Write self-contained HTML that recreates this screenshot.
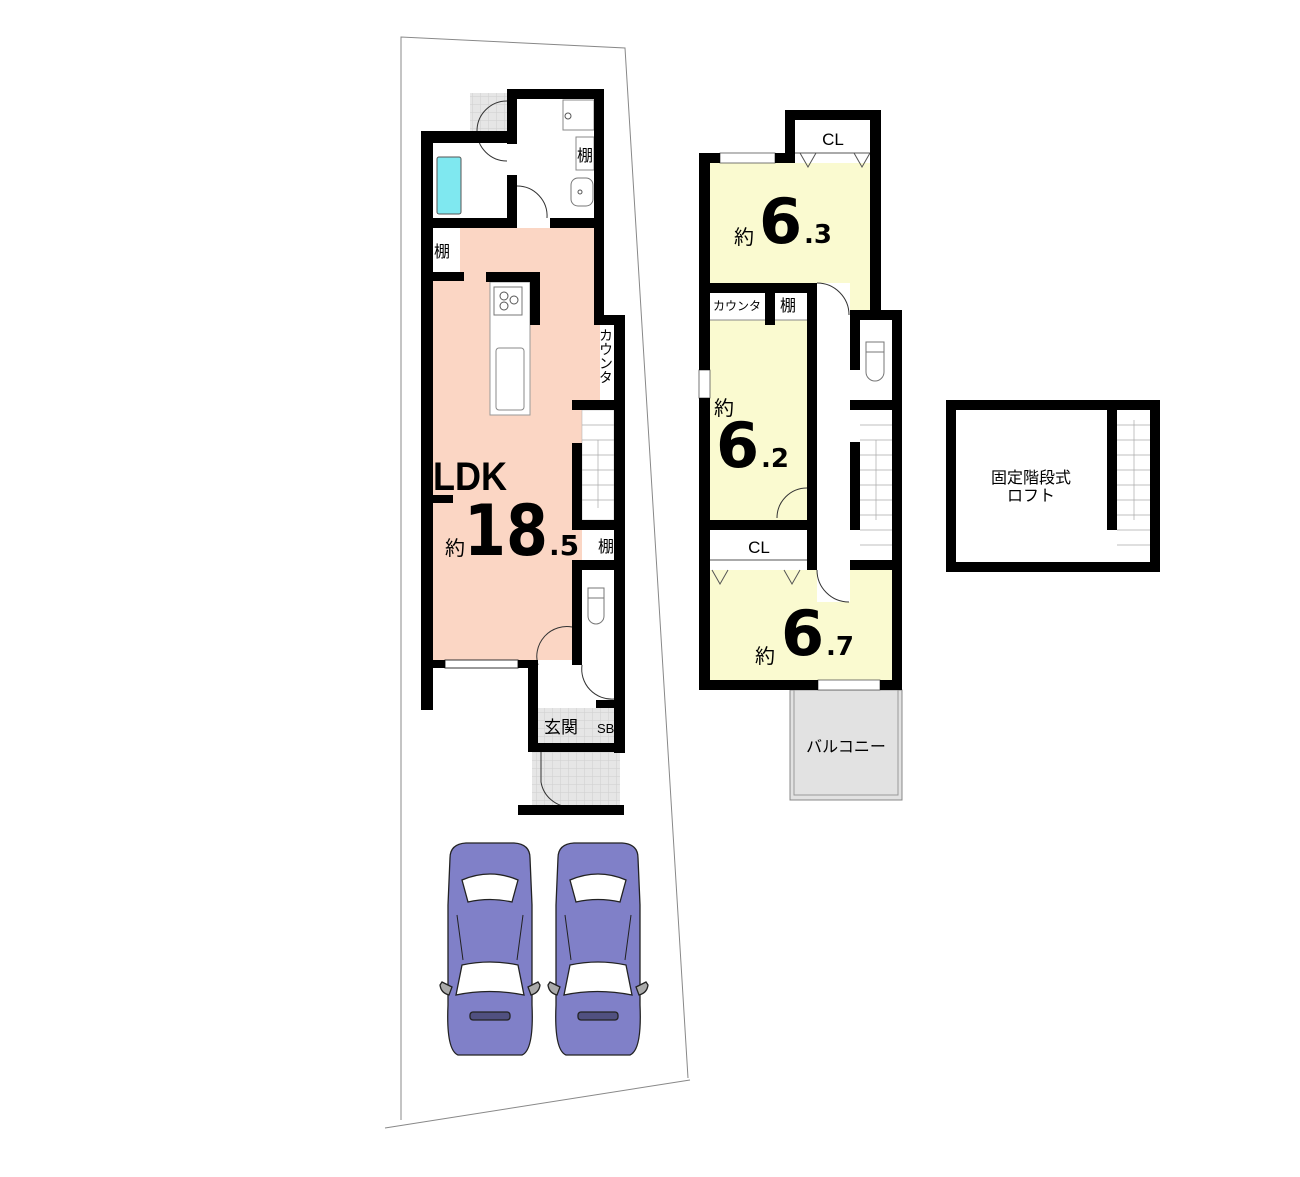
<!DOCTYPE html>
<html><head><meta charset="utf-8"><style>
body{margin:0;background:#fff}
svg{display:block}
text{font-family:"Liberation Sans","Noto Sans CJK JP",sans-serif;fill:#000}
.big{font-family:"DejaVu Sans","Liberation Sans",sans-serif;font-weight:bold}
</style></head><body>
<svg width="1300" height="1177" viewBox="0 0 1300 1177" xmlns="http://www.w3.org/2000/svg">
<defs>
<pattern id="hatch" width="8" height="8" patternUnits="userSpaceOnUse"><rect width="8" height="8" fill="#e6e6e6"/><path d="M0 0H8M0 0V8" stroke="#cfcfcf" stroke-width="1"/></pattern>
</defs>
<polyline points="401,1120 401,37 625,48 688,1078" fill="none" stroke="#888" stroke-width="1"/>
<line x1="690" y1="1080" x2="385" y2="1128" stroke="#888" stroke-width="1"/>

<!-- ===== 1F ===== -->
<rect x="433" y="228" width="161" height="432" fill="#fbd6c4"/>
<rect x="594" y="325" width="20" height="80" fill="#fbd6c4"/>
<rect x="433" y="228" width="27" height="44" fill="#fff"/>
<rect x="490" y="282" width="40" height="133" fill="#fff" stroke="#999"/>
<rect x="494" y="287" width="28" height="28" fill="#fff" stroke="#777"/>
<circle cx="504" cy="296" r="4" fill="none" stroke="#555"/><circle cx="514" cy="300" r="4" fill="none" stroke="#555"/><circle cx="504" cy="306" r="4" fill="none" stroke="#555"/>
<rect x="496" y="348" width="28" height="62" fill="#fff" stroke="#888" rx="3"/>
<rect x="600" y="325" width="14" height="80" fill="#fff"/>
<rect x="582" y="410" width="32" height="110" fill="#fff" stroke="#aaa" stroke-width="0.5"/>
<g stroke="#aaa" stroke-width="0.7">
<line x1="582" y1="425" x2="614" y2="425"/><line x1="582" y1="440" x2="614" y2="440"/><line x1="582" y1="455" x2="614" y2="455"/><line x1="582" y1="470" x2="614" y2="470"/><line x1="582" y1="485" x2="614" y2="485"/><line x1="582" y1="500" x2="614" y2="500"/>
<line x1="598" y1="440" x2="598" y2="508"/></g>
<rect x="582" y="530" width="32" height="30" fill="#fff"/>
<rect x="582" y="570" width="32" height="95" fill="#fff"/>
<rect x="588" y="588" width="16" height="10" fill="none" stroke="#777"/>
<path d="M588 598 v18 a8 8 0 0 0 16 0 v-18" fill="none" stroke="#777"/>
<rect x="433" y="143" width="74" height="75" fill="#fff"/>
<rect x="437" y="157" width="24" height="57" fill="#7fe8f0" stroke="#555" rx="2"/>
<rect x="470" y="93" width="37" height="38" fill="url(#hatch)"/>
<path d="M507 101 a30 30 0 0 0 0 60" fill="none" stroke="#333"/>
<path d="M517 186 a30 30 0 0 1 30 32" fill="none" stroke="#333"/>
<rect x="563" y="100" width="31" height="30" fill="#fff" stroke="#888"/><circle cx="568" cy="116" r="3" fill="none" stroke="#555"/>
<rect x="576" y="137" width="18" height="33" fill="#fff" stroke="#888"/>
<rect x="571" y="178" width="22" height="28" rx="7" fill="#fff" stroke="#777"/><circle cx="580" cy="192" r="2" fill="none" stroke="#555"/>
<rect x="538" y="668" width="76" height="32" fill="#fff"/>
<rect x="538" y="708" width="76" height="36" fill="url(#hatch)"/>
<rect x="532" y="752" width="88" height="53" fill="url(#hatch)"/>
<path d="M538 665 a30 30 0 0 1 34 -38" fill="none" stroke="#333"/>
<path d="M582 665 a30 30 0 0 0 32 34" fill="none" stroke="#333"/>
<path d="M541 752 v30 a30 30 0 0 0 30 25" fill="none" stroke="#333"/>
<rect x="445" y="660" width="73" height="8" fill="#fff" stroke="#333" stroke-width="1"/>
<g fill="#000">
<rect x="421" y="131" width="12" height="579"/>
<rect x="421" y="131" width="96" height="12"/>
<rect x="507" y="89" width="97" height="10"/>
<rect x="507" y="89" width="10" height="55"/>
<rect x="507" y="175" width="10" height="53"/>
<rect x="594" y="89" width="10" height="236"/>
<rect x="594" y="315" width="31" height="10"/>
<rect x="614" y="315" width="11" height="438"/>
<rect x="421" y="218" width="96" height="10"/>
<rect x="550" y="218" width="54" height="10"/>
<rect x="433" y="272" width="31" height="9"/>
<rect x="486" y="272" width="54" height="10"/>
<rect x="530" y="272" width="10" height="53"/>
<rect x="572" y="400" width="42" height="10"/>
<rect x="572" y="443" width="10" height="87"/>
<rect x="572" y="520" width="42" height="10"/>
<rect x="572" y="560" width="52" height="10"/>
<rect x="572" y="560" width="10" height="105"/>
<rect x="421" y="660" width="24" height="8"/>
<rect x="518" y="660" width="20" height="8"/>
<rect x="528" y="660" width="10" height="92"/>
<rect x="433" y="495" width="20" height="8"/>
<rect x="596" y="700" width="28" height="8"/>
<rect x="538" y="743" width="86" height="9"/>
<rect x="518" y="805" width="106" height="10"/>
</g>
<text x="577" y="161" font-size="16">棚</text>
<text x="434" y="257" font-size="16">棚</text>
<text x="598" y="552" font-size="16">棚</text>
<text x="606" y="328" font-size="14" writing-mode="tb">カウンタ</text>
<text x="544" y="733" font-size="17">玄関</text>
<text x="597" y="733" font-size="13">SB</text>
<text x="433" y="490" font-size="40" font-weight="bold" transform="scale(0.9 1)" style="transform-origin:433px 490px">LDK</text>
<text x="445" y="555" font-size="20">約</text>
<text x="464" y="555" font-size="70" class="big" textLength="84" lengthAdjust="spacingAndGlyphs">18</text>
<text x="549" y="555" font-size="28" class="big">.5</text>

<!-- ===== 2F ===== -->
<rect x="710" y="163" width="160" height="147" fill="#fafad0"/>
<rect x="795" y="120" width="75" height="43" fill="#fff"/>
<line x1="795" y1="153" x2="870" y2="153" stroke="#555"/>
<path d="M800 153 l8 14 l8 -14 M854 153 l8 14 l8 -14" fill="none" stroke="#555"/>
<rect x="720" y="153" width="55" height="10" fill="#fff" stroke="#555" stroke-width="0.8"/>
<rect x="710" y="293" width="97" height="227" fill="#fafad0"/>
<rect x="710" y="293" width="97" height="27" fill="#fff"/>
<line x1="710" y1="320" x2="807" y2="320" stroke="#888"/>
<rect x="817" y="283" width="33" height="320" fill="#fff"/>
<path d="M817 283 a32 32 0 0 1 32 32" fill="none" stroke="#333"/>
<path d="M807 488 a30 30 0 0 0 -30 30" fill="none" stroke="#333"/>
<rect x="858" y="325" width="34" height="75" fill="#fff"/>
<rect x="866" y="342" width="18" height="10" fill="none" stroke="#777"/>
<path d="M866 352 v20 a9 9 0 0 0 18 0 v-20" fill="none" stroke="#777"/>
<rect x="860" y="410" width="32" height="150" fill="#fff"/>
<g stroke="#aaa" stroke-width="0.7">
<line x1="860" y1="425" x2="892" y2="425"/><line x1="860" y1="440" x2="892" y2="440"/><line x1="860" y1="455" x2="892" y2="455"/><line x1="860" y1="470" x2="892" y2="470"/><line x1="860" y1="485" x2="892" y2="485"/><line x1="860" y1="500" x2="892" y2="500"/><line x1="860" y1="515" x2="892" y2="515"/><line x1="860" y1="530" x2="892" y2="530"/><line x1="860" y1="545" x2="892" y2="545"/>
<line x1="876" y1="440" x2="876" y2="520"/></g>
<rect x="710" y="530" width="97" height="40" fill="#fff"/>
<line x1="710" y1="560" x2="807" y2="560" stroke="#555"/>
<rect x="710" y="570" width="182" height="110" fill="#fafad0"/>
<rect x="817" y="570" width="33" height="32" fill="#fff"/>
<path d="M817 570 a32 32 0 0 0 32 32" fill="none" stroke="#333"/>
<path d="M712 570 l8 14 l8 -14 M784 570 l8 14 l8 -14" fill="none" stroke="#555"/>
<rect x="790" y="690" width="112" height="110" fill="#e2e2e2" stroke="#888"/>
<rect x="794" y="690" width="104" height="105" fill="none" stroke="#999"/>
<rect x="818" y="680" width="62" height="10" fill="#fff" stroke="#555" stroke-width="0.8"/>
<rect x="699" y="370" width="11" height="28" fill="#fff" stroke="#555" stroke-width="0.8"/>
<g fill="#000">
<rect x="699" y="153" width="11" height="217"/>
<rect x="699" y="398" width="11" height="292"/>
<rect x="699" y="153" width="21" height="10"/>
<rect x="775" y="153" width="20" height="10"/>
<rect x="785" y="110" width="10" height="53"/>
<rect x="785" y="110" width="96" height="10"/>
<rect x="870" y="110" width="11" height="205"/>
<rect x="699" y="283" width="118" height="10"/>
<rect x="807" y="283" width="10" height="205"/>
<rect x="807" y="488" width="10" height="42"/>
<rect x="765" y="293" width="10" height="32"/>
<rect x="850" y="310" width="52" height="10"/>
<rect x="850" y="310" width="10" height="60"/>
<rect x="892" y="310" width="10" height="380"/>
<rect x="850" y="400" width="52" height="10"/>
<rect x="850" y="442" width="10" height="88"/>
<rect x="699" y="520" width="118" height="10"/>
<rect x="807" y="520" width="10" height="50"/>
<rect x="850" y="560" width="52" height="10"/>
<rect x="699" y="680" width="119" height="10"/>
<rect x="880" y="680" width="22" height="10"/>
</g>
<text x="833" y="145" font-size="17" text-anchor="middle">CL</text>
<text x="759" y="553" font-size="17" text-anchor="middle">CL</text>
<text x="713" y="310" font-size="12">カウンタ</text>
<text x="780" y="311" font-size="16">棚</text>
<text x="734" y="244" font-size="20">約</text>
<text x="759" y="243" font-size="62" class="big">6</text>
<text x="804" y="243" font-size="26" class="big">.3</text>
<text x="714" y="415" font-size="20">約</text>
<text x="716" y="467" font-size="62" class="big">6</text>
<text x="761" y="467" font-size="26" class="big">.2</text>
<text x="755" y="663" font-size="20">約</text>
<text x="781" y="655" font-size="62" class="big">6</text>
<text x="826" y="655" font-size="26" class="big">.7</text>
<text x="846" y="752" font-size="16" text-anchor="middle">バルコニー</text>

<!-- ===== Loft ===== -->
<rect x="951" y="405" width="204" height="162" fill="#fff" stroke="#000" stroke-width="10"/>
<rect x="1117" y="410" width="33" height="152" fill="#fff"/>
<g stroke="#aaa" stroke-width="0.7">
<line x1="1117" y1="425" x2="1150" y2="425"/><line x1="1117" y1="440" x2="1150" y2="440"/><line x1="1117" y1="455" x2="1150" y2="455"/><line x1="1117" y1="470" x2="1150" y2="470"/><line x1="1117" y1="485" x2="1150" y2="485"/><line x1="1117" y1="500" x2="1150" y2="500"/><line x1="1117" y1="515" x2="1150" y2="515"/><line x1="1117" y1="530" x2="1150" y2="530"/><line x1="1117" y1="545" x2="1150" y2="545"/>
<line x1="1134" y1="420" x2="1134" y2="520"/></g>
<rect x="1107" y="400" width="10" height="130" fill="#000"/>
<text x="1031" y="483" font-size="16" text-anchor="middle">固定階段式</text>
<text x="1031" y="501" font-size="16" text-anchor="middle">ロフト</text>

<!-- ===== Cars ===== -->
<g id="car" stroke="#222" stroke-width="1.3">
<path d="M450 858 q0 -14 16 -15 h48 q16 1 16 15 l2 47 v100 q2 45 -10 50 h-64 q-12 -5 -10 -50 v-100 z" fill="#8080c8"/>
<path d="M462 880 q28 -12 56 0 l-6 22 q-22 -5 -44 0 z" fill="#fff"/>
<path d="M457 915 l6 45 M523 915 l-6 45" stroke-width="1"/>
<path d="M462 965 q28 -6 56 0 l6 30 q-35 -7 -68 0 z" fill="#fff"/>
<rect x="470" y="1012" width="40" height="8" rx="3" fill="#505080"/>
<path d="M442 982 l10 5 l-3 8 q-8 -2 -9 -10 z M538 982 l-10 5 l3 8 q8 -2 9 -10 z" fill="#aaa"/>
</g>
<use href="#car" x="108"/>
</svg>
</body></html>
